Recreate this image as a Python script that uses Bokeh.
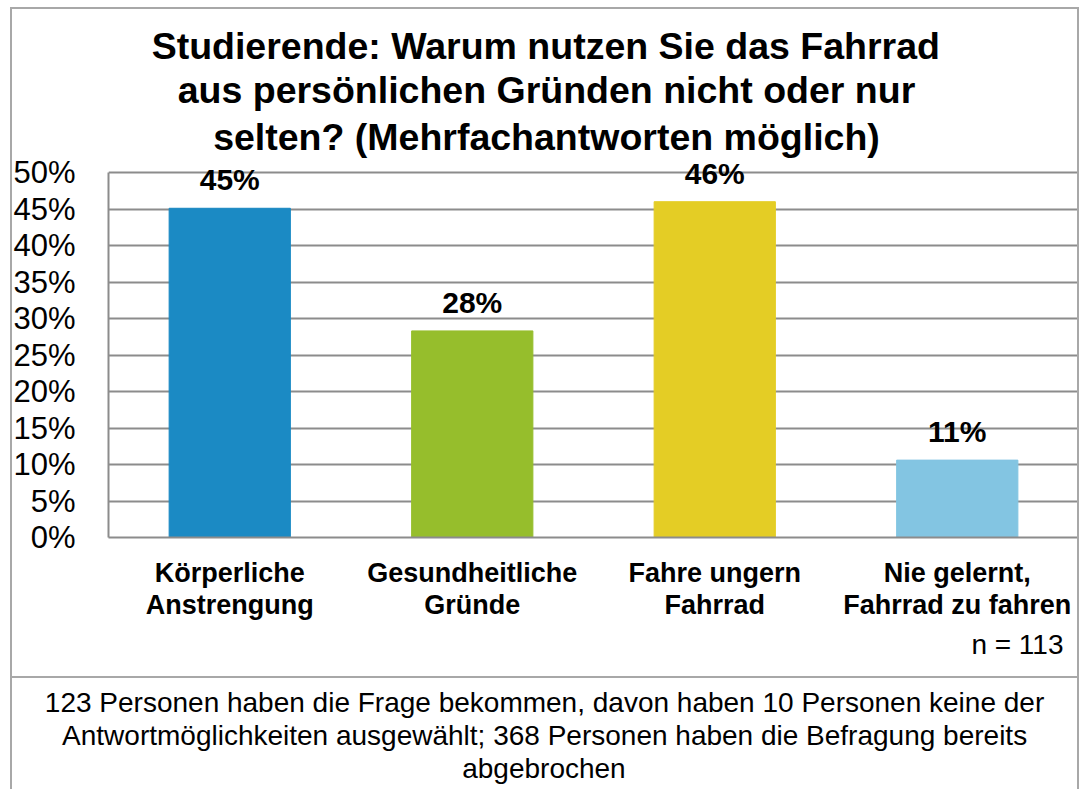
from bokeh.plotting import figure
from bokeh.models import (Range1d, FixedTicker, ColumnDataSource, LabelSet, Title,
                          InlineStyleSheet)
from bokeh.core.properties import value
from bokeh.embed import file_html
from bokeh.resources import INLINE

# ---- data ----
categories = ["Körperliche\nAnstrengung", "Gesundheitliche\nGründe",
              "Fahre ungern\nFahrrad", "Nie gelernt,\nFahrrad zu fahren"]
values = [45.1, 28.3, 46.0, 10.6]
value_labels = ["45%", "28%", "46%", "11%"]
colors = ["#1B8AC4", "#96BE2C", "#E4CD25", "#83C5E2"]
y_ticks = [0, 5, 10, 15, 20, 25, 30, 35, 40, 45, 50]
y_tick_labels = ["0%", "5%", "10%", "15%", "20%", "25%", "30%", "35%", "40%", "45%", "50%"]
title_lines = ["Studierende: Warum nutzen Sie das Fahrrad",
               "aus persönlichen Gründen nicht oder nur",
               "selten? (Mehrfachantworten möglich)"]
n_text = "n = 113"
caption_lines = ["123 Personen haben die Frage bekommen, davon haben 10 Personen keine der",
                 "Antwortmöglichkeiten ausgewählt; 368 Personen haben die Befragung bereits",
                 "abgebrochen"]

FONT = "Liberation Sans"
GRID = "#8c8c8c"
FRAME = "#a8a8a8"

W, H = 1080, 789
FL, FR, FB = 108, 1078, 537          # frame left / right / bottom (page px)
Y50 = 172                             # page y of the 50% line
FT = 160                              # frame top (room for labels above 50%)
y_end = 50 * (FB - FT) / (FB - Y50)

p = figure(x_range=categories, y_range=Range1d(0, y_end), width=W, height=H,
           output_backend="svg", toolbar_location=None, title=None,
           min_border_left=FL, min_border_right=W - FR, min_border_top=FT,
           min_border_bottom=H - FB)
p.x_range.range_padding = 0

src = ColumnDataSource(dict(cat=categories, val=values, lab=value_labels, col=colors))
p.vbar(x="cat", top="val", width=0.5, color="col", source=src)

p.add_layout(LabelSet(x="cat", y="val", text="lab", source=src, y_offset=18,
                      text_align="center", text_baseline="alphabetic",
                      text_font=value(FONT), text_font_style="bold",
                      text_font_size="30px", text_color="black"))

# axes
p.yaxis.ticker = FixedTicker(ticks=y_ticks)
p.yaxis.bounds = (0, 50)
p.yaxis.major_label_overrides = {t: l for t, l in zip(y_ticks, y_tick_labels)}
p.yaxis.major_label_text_font = FONT
p.yaxis.major_label_text_font_size = "31px"
p.yaxis.major_label_text_color = "black"
p.yaxis.major_label_standoff = 27
p.yaxis.major_tick_line_color = None
p.yaxis.minor_tick_line_color = None
p.yaxis.axis_line_color = GRID
p.yaxis.axis_line_width = 2

p.xaxis.major_label_text_font = FONT
p.xaxis.major_label_text_font_style = "bold"
p.xaxis.major_label_text_font_size = "27px"
p.xaxis.major_label_text_line_height = 1.07
p.xaxis.major_label_text_color = "black"
p.xaxis.major_label_standoff = 14
p.xaxis.major_tick_line_color = None
p.xaxis.axis_line_color = GRID
p.xaxis.axis_line_width = 2

p.xgrid.grid_line_color = None
p.ygrid.grid_line_color = GRID
p.ygrid.grid_line_width = 2
p.outline_line_color = None
p.background_fill_color = "white"
p.border_fill_color = "white"

# ---- title lines (centered at page x ~546, via left alignment + offset) ----
TITLE_PX = 37.5
title_em = [21.06, 19.67, 17.78]      # text widths in em (Arial/Liberation bold metrics)
title_standoff = [0, 0, 6]
TCX = 546
for txt, em, so in reversed(list(zip(title_lines, title_em, title_standoff))):
    w = em * TITLE_PX
    p.add_layout(Title(text=txt, align="left", offset=TCX - w / 2 - FL, standoff=so,
                       text_font=FONT, text_font_style="bold",
                       text_font_size=f"{TITLE_PX}px", text_color="black"), "above")

# ---- n and caption below ----
p.add_layout(Title(text=n_text, align="right", offset=FR - 1063, standoff=8,
                   text_font=FONT, text_font_style="normal", text_font_size="28px",
                   text_color="black"), "below")
# invisible spacer pushing the caption box content down
p.add_layout(Title(text=" ", standoff=18, text_font_size="1px", text_color="white"),
             "below")
CAP_PX = 28
cap_em = [35.69, 34.46, 5.877]
cap_standoff = [0, 0, 0]
CCX = 544
for txt, em, so in zip(caption_lines, cap_em, cap_standoff):
    w = em * CAP_PX
    p.add_layout(Title(text=txt, align="left", offset=CCX - w / 2 - FL, standoff=so,
                       text_font=FONT, text_font_style="normal",
                       text_font_size=f"{CAP_PX}px", text_color="black"), "below")

# ---- outer frame and separator (drawn with CSS, no effect on layout) ----
p.stylesheets = [InlineStyleSheet(css=f"""
:host::after {{
  content: ""; position: absolute; left: 10px; top: 7px; width: 1069px; height: 782px;
  box-sizing: border-box; border: 2px solid {FRAME}; border-bottom: none;
  pointer-events: none; z-index: 10;
}}
:host::before {{
  content: ""; position: absolute; left: 10px; top: 676px; width: 1069px; height: 2px;
  background: {FRAME}; pointer-events: none; z-index: 10;
}}
""")]

open("out.html", "w").write(file_html(p, INLINE))
